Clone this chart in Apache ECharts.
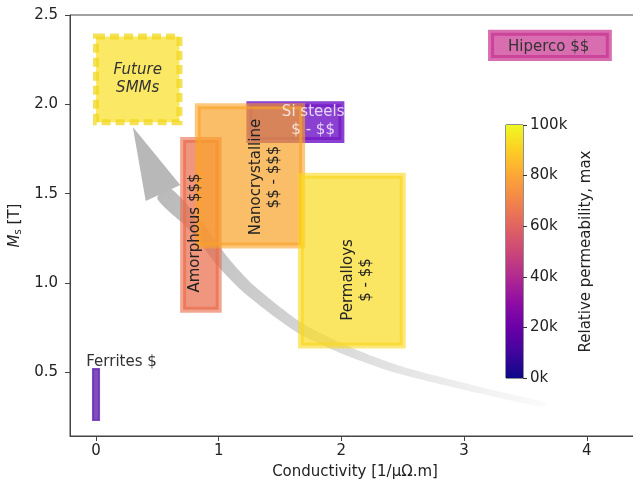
<!DOCTYPE html>
<html>
<head>
<meta charset="utf-8">
<script src="https://cdn.jsdelivr.net/npm/echarts@6/dist/echarts.min.js"></script>
<style>
  html, body { margin: 0; padding: 0; background: #fff; }
  #chart { width: 633px; height: 483px; }
</style>
</head>
<body>
<div id="chart"></div>
<script>
// material boxes: conductivity range (x) and Ms range (y)
const materials = ['Future SMMs', 'Ferrites', 'Hiperco', 'Si steels', 'Amorphous', 'Nanocrystalline', 'Permalloys'];
const condMin = [0.0, -0.025, 3.22, 1.25, 0.71, 0.83, 1.67];
const condMax = [0.68, 0.025, 4.18, 2.0, 1.0, 1.68, 2.5];
const msMin = [1.9, 0.234, 2.26, 1.8, 0.85, 1.21, 0.65];
const msMax = [2.38, 0.519, 2.4, 2.0, 1.8, 1.99, 1.6];

// text labels
const labelText = ['Future\nSMMs', 'Ferrites $', 'Hiperco $$', 'Si steels\n$ - $$', 'Amorphous $$$', 'Nanocrystalline\n$$ - $$$', 'Permalloys\n$ - $$'];
const labelX = [0.34, 0.208, 3.69, 1.77, 0.807, 1.377, 2.127];
const labelY = [2.14, 0.558, 2.323, 1.905, 1.28, 1.593, 1.017];
const labelRot = [0, 0, 0, 0, 90, 90, 90];

// curved arrow (tip first, then shaft toward the tail)
const arrowX = [0.30, 0.546, 0.807, 1.035, 1.255, 1.663, 2.07, 2.478, 3.13, 3.66];
const arrowY = [1.873, 1.504, 1.325, 1.118, 0.961, 0.748, 0.614, 0.513, 0.40, 0.318];

// colour bar
const permMax = [100000];
const xTicks = [0, 1, 2, 3, 4];
const yTicks = [0.5, 1.0, 1.5, 2.0, 2.5];

// styles
const fills = ['rgba(250,223,40,0.72)', 'rgba(106,48,180,0.85)', 'rgba(200,48,143,0.7)', 'rgba(118,30,200,0.85)',
  'rgba(234,106,72,0.7)', 'rgba(250,163,40,0.7)', 'rgba(250,220,40,0.72)'];
const strokes = ['rgba(240,215,30,0.75)', 'rgba(106,48,180,0.85)', 'rgba(200,48,143,0.7)', 'rgba(118,30,200,0.85)',
  'rgba(234,106,72,0.6)', 'rgba(250,163,40,0.6)', 'rgba(250,215,30,0.6)'];
const lineWidths = [6, 2, 6, 6, 6, 6, 6];
const labelColor = ['#333', '#333', '#333', 'rgba(255,255,255,0.78)', '#222', '#222', '#222'];
const plasma = ['#0d0887', '#41049d', '#6a00a8', '#8f0da4', '#b12a90', '#cc4778', '#e16462', '#f2844b', '#fca636', '#fcce25', '#f0f921'];

const font = 'DejaVu Sans';
let chart = echarts.init(document.getElementById('chart'));

function renderBox (params, api) {
  let i = params.dataIndex;
  let p0 = api.coord([api.value(0), api.value(3)]);
  let p1 = api.coord([api.value(1), api.value(2)]);
  return {
    type: 'rect',
    shape: { x: p0[0], y: p0[1], width: p1[0] - p0[0], height: p1[1] - p0[1] },
    style: {
      fill: fills[i],
      stroke: strokes[i],
      lineWidth: lineWidths[i],
      lineDash: i === 0 ? [9, 5] : null
    }
  };
}

function renderLabel (params, api) {
  let i = params.dataIndex;
  let p = api.coord([api.value(0), api.value(1)]);
  return {
    type: 'text',
    x: p[0],
    y: p[1],
    rotation: labelRot[i] * Math.PI / 180,
    style: {
      text: labelText[i],
      fill: labelColor[i],
      font: (i === 0 ? 'italic ' : '') + '15px "' + font + '"',
      align: 'center',
      verticalAlign: 'middle',
      lineHeight: 18
    }
  };
}

function renderArrow (params, api) {
  let pts = arrowX.map((x, i) => api.coord([x, arrowY[i]]));
  let tip = pts[0];
  let shaft = pts.slice(1);
  let n = shaft.length;
  let left = [];
  let right = [];
  for (let i = 0; i < n; i++) {
    let a = shaft[Math.max(i - 1, 0)];
    let b = shaft[Math.min(i + 1, n - 1)];
    let dx = b[0] - a[0];
    let dy = b[1] - a[1];
    let len = Math.hypot(dx, dy);
    let nx = -dy / len;
    let ny = dx / len;
    let w = (16 - 11 * i / (n - 1)) / 2;
    left.push([shaft[i][0] + nx * w, shaft[i][1] + ny * w]);
    right.push([shaft[i][0] - nx * w, shaft[i][1] - ny * w]);
  }
  // head
  let base = shaft[0];
  let hx = base[0] - tip[0];
  let hy = base[1] - tip[1];
  let hl = Math.hypot(hx, hy);
  let px = -hy / hl;
  let py = hx / hl;
  let head = [tip, [base[0] + px * 19, base[1] + py * 19], [base[0] - px * 19, base[1] - py * 19]];
  let end = shaft[n - 1];
  let grad = new echarts.graphic.LinearGradient(base[0], base[1], end[0], end[1], [
    { offset: 0, color: '#bababa' },
    { offset: 0.5, color: '#d8d8d8' },
    { offset: 1, color: '#fbfbfb' }
  ], true);
  return {
    type: 'group',
    children: [
      { type: 'polygon', shape: { points: left.concat(right.reverse()), smooth: 0.25 }, style: { fill: grad } },
      { type: 'polygon', shape: { points: head }, style: { fill: '#b8b8b8' } }
    ]
  };
}

chart.setOption({
  animation: false,
  textStyle: { fontFamily: font },
  grid: [
    { left: 70, top: 15, width: 570, height: 421, outerBoundsMode: 'none', show: true, borderColor: '#444', borderWidth: 1, backgroundColor: 'transparent' },
    { left: 506, top: 125, width: 17, height: 253, outerBoundsMode: 'none', show: true, borderColor: '#222', borderWidth: 1 }
  ],
  xAxis: [
    {
      type: 'value',
      gridIndex: 0,
      min: -0.212,
      max: 4.434,
      name: 'Conductivity [1/\u03bc\u03a9.m]',
      nameLocation: 'middle',
      nameGap: 29,
      nameTextStyle: { fontSize: 15, color: '#222' },
      axisLine: { onZero: false, lineStyle: { color: '#444' } },
      axisTick: { length: 5, customValues: xTicks, lineStyle: { color: '#444' } },
      axisLabel: { customValues: xTicks, fontSize: 15, color: '#222', margin: 8 },
      splitLine: { show: false }
    },
    { type: 'category', gridIndex: 1, data: [''], show: false }
  ],
  yAxis: [
    {
      type: 'value',
      gridIndex: 0,
      min: 0.144,
      max: 2.5,
      name: '{i|M}{s|s} [T]',
      nameLocation: 'middle',
      nameRotate: 90,
      nameGap: 45,
      nameTextStyle: {
        fontSize: 15,
        color: '#222',
        rich: {
          i: { fontSize: 15, fontStyle: 'italic', color: '#222' },
          s: { fontSize: 10, color: '#222', verticalAlign: 'bottom', padding: [6, 0, 0, 0] }
        }
      },
      axisLine: { show: true, onZero: false, lineStyle: { color: '#444' } },
      axisTick: { show: true, length: 5, customValues: yTicks, lineStyle: { color: '#444' } },
      axisLabel: { customValues: yTicks, fontSize: 15, color: '#222', margin: 12, formatter: v => v.toFixed(1) },
      splitLine: { show: false }
    },
    {
      type: 'value',
      gridIndex: 1,
      position: 'right',
      min: 0,
      max: 100000,
      interval: 20000,
      name: 'Relative permeability, max',
      nameLocation: 'middle',
      nameRotate: 90,
      nameGap: 56,
      nameTextStyle: { fontSize: 15, color: '#222' },
      axisLine: { show: false },
      axisTick: { show: true, length: 4, lineStyle: { color: '#333' } },
      axisLabel: { fontSize: 15, color: '#222', margin: 7, formatter: v => (v / 1000) + 'k' },
      splitLine: { show: false }
    }
  ],
  series: [
    {
      type: 'custom',
      name: 'arrow',
      xAxisIndex: 0,
      yAxisIndex: 0,
      z: 1,
      silent: true,
      renderItem: renderArrow,
      data: [[arrowX[0], arrowY[0]]]
    },
    {
      type: 'custom',
      name: 'materials',
      xAxisIndex: 0,
      yAxisIndex: 0,
      z: 2,
      renderItem: renderBox,
      encode: { x: [0, 1], y: [2, 3] },
      data: materials.map((m, i) => [condMin[i], condMax[i], msMin[i], msMax[i]])
    },
    {
      type: 'custom',
      name: 'labels',
      xAxisIndex: 0,
      yAxisIndex: 0,
      z: 3,
      renderItem: renderLabel,
      encode: { x: 0, y: 1 },
      data: labelText.map((t, i) => [labelX[i], labelY[i]])
    },
    {
      type: 'bar',
      name: 'colorbar',
      xAxisIndex: 1,
      yAxisIndex: 1,
      barWidth: '100%',
      silent: true,
      data: permMax,
      itemStyle: {
        color: new echarts.graphic.LinearGradient(0, 1, 0, 0,
          plasma.map((c, i) => ({ offset: i / (plasma.length - 1), color: c })))
      }
    }
  ]
});
</script>
</body>
</html>
